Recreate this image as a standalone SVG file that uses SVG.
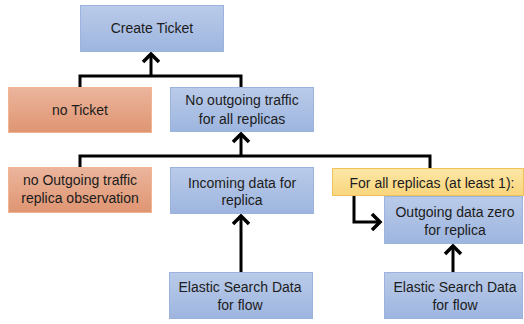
<svg xmlns="http://www.w3.org/2000/svg" width="524" height="324" viewBox="0 0 524 324">
<defs>
<linearGradient id="gBlue" x1="0" y1="0" x2="0" y2="1"><stop offset="0" stop-color="#bacbe9"/><stop offset="1" stop-color="#9db5df"/></linearGradient>
<linearGradient id="gOrange" x1="0" y1="0" x2="0" y2="1"><stop offset="0" stop-color="#ebb59c"/><stop offset="1" stop-color="#df9572"/></linearGradient>
<linearGradient id="gYellow" x1="0" y1="0" x2="0" y2="1"><stop offset="0" stop-color="#fde7a6"/><stop offset="1" stop-color="#f9d57d"/></linearGradient>
<marker id="ah" markerUnits="userSpaceOnUse" markerWidth="24" markerHeight="24" viewBox="-12 -12 24 24" refX="0" refY="0" orient="auto" overflow="visible">
<path d="M-8,-8 L0,0 L-8,8" fill="none" stroke="#000" stroke-width="3.5"/>
</marker>
<style>
.blue{fill:url(#gBlue);stroke:#9bb3dd;stroke-width:1}
.orange{fill:url(#gOrange);stroke:#f2b493;stroke-width:1}
.yellow{fill:url(#gYellow);stroke:#f0c35a;stroke-width:1}
text{font-family:"Liberation Sans",Arial,sans-serif;font-size:14px;fill:#1c1c1c;text-anchor:middle}
.c{fill:none;stroke:#000;stroke-width:3}
.a{marker-end:url(#ah)}
</style>
</defs>
<g id="connectors">
<path class="c" d="M80,87 V76 H241 V87"/>
<path class="c a" d="M151,76 V54"/>
<path class="c" d="M80,167 V156 H430 V168"/>
<path class="c a" d="M241,156 V134"/>
<path class="c a" d="M241,272 V216"/>
<path class="c a" d="M453,272 V246"/>
<path class="c a" d="M354,195 V222 H380"/>
</g>
<g id="create-ticket"><rect class="blue" x="80.5" y="5.5" width="143" height="46"/><text x="152" y="33">Create Ticket</text></g>
<g id="no-ticket"><rect class="orange" x="8.5" y="87.5" width="143" height="45"/><text x="80" y="115">no Ticket</text></g>
<g id="no-outgoing-all"><rect class="blue" x="170.5" y="87.5" width="143" height="44"/><text x="242" y="105">No outgoing traffic</text><text x="242" y="124">for all replicas</text></g>
<g id="no-outgoing-observation"><rect class="orange" x="8.5" y="167.5" width="143" height="45"/><text x="80" y="185">no Outgoing traffic</text><text x="80" y="203">replica observation</text></g>
<g id="incoming-data"><rect class="blue" x="170.5" y="167.5" width="143" height="46"/><text x="242" y="188">Incoming data for</text><text x="242" y="205">replica</text></g>
<g id="for-all-replicas"><rect class="yellow" x="332.5" y="168.5" width="191" height="27"/><text x="432" y="188">For all replicas (at least 1):</text></g>
<g id="outgoing-zero"><rect class="blue" x="384.5" y="196.5" width="138" height="47"/><text x="455" y="217">Outgoing data zero</text><text x="455" y="235">for replica</text></g>
<g id="elastic-1"><rect class="blue" x="169.5" y="272.5" width="143" height="46"/><text x="240" y="292">Elastic Search Data</text><text x="240" y="310">for flow</text></g>
<g id="elastic-2"><rect class="blue" x="384.5" y="272.5" width="138" height="46"/><text x="455" y="292">Elastic Search Data</text><text x="455" y="310">for flow</text></g>
</svg>
